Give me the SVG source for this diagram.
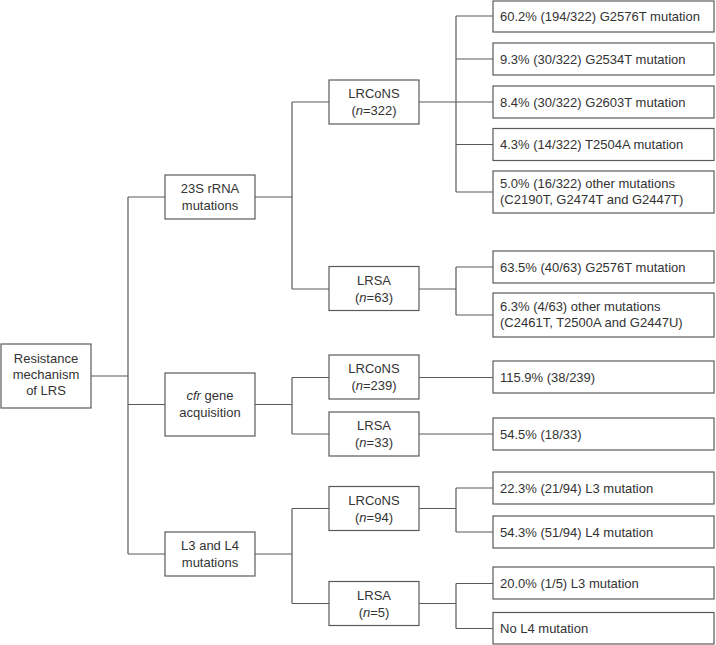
<svg xmlns="http://www.w3.org/2000/svg" width="716" height="645" viewBox="0 0 716 645">
<style>
  .box { fill: #ffffff; stroke: #5a5a5a; stroke-width: 1.2; }
  .ln { fill: none; stroke: #5a5a5a; stroke-width: 1.2; }
  text { font-family: "Liberation Sans", Arial, sans-serif; font-size: 13px; fill: #333333; }
  .c { text-anchor: middle; }
  .i { font-style: italic; }
</style>
<rect width="716" height="645" fill="#ffffff"/>
<g id="connectors">
  <path class="ln" d="M91,376 H128 M128,197 V554 M128,197 H165 M128,404.5 H165 M128,554 H165"/>
  <path class="ln" d="M255,197 H292 M292,102 V289 M292,102 H329 M292,289 H329"/>
  <path class="ln" d="M419,102 H456 M456,16 V192 M456,16 H493 M456,59 H493 M456,102 H493 M456,144.5 H493 M456,192 H493"/>
  <path class="ln" d="M419,289 H456 M456,267 V315 M456,267 H493 M456,315 H493"/>
  <path class="ln" d="M255,404.5 H292 M292,377.5 V434 M292,377.5 H329 M292,434 H329"/>
  <path class="ln" d="M419,377.5 H493 M419,434 H493"/>
  <path class="ln" d="M255,554 H292 M292,508.5 V603.5 M292,508.5 H329 M292,603.5 H329"/>
  <path class="ln" d="M419,508.5 H456 M456,488 V532 M456,488 H493 M456,532 H493"/>
  <path class="ln" d="M419,603.5 H456 M456,583.5 V628.5 M456,583.5 H493 M456,628.5 H493"/>
</g>
<g id="root">
  <rect class="box" x="1" y="344" width="90" height="64"/>
  <text class="c" x="46" y="363">Resistance</text>
  <text class="c" x="46" y="379">mechanism</text>
  <text class="c" x="46" y="395">of LRS</text>
</g>
<g id="n23s">
  <rect class="box" x="165" y="175" width="90" height="44"/>
  <text class="c" x="210" y="193">23S rRNA</text>
  <text class="c" x="210" y="210">mutations</text>
</g>
<g id="ncfr">
  <rect class="box" x="165" y="373" width="90" height="63"/>
  <text class="c" x="210" y="400"><tspan class="i">cfr</tspan> gene</text>
  <text class="c" x="210" y="417">acquisition</text>
</g>
<g id="nL3L4">
  <rect class="box" x="165" y="532" width="90" height="44"/>
  <text class="c" x="210" y="550">L3 and L4</text>
  <text class="c" x="210" y="567">mutations</text>
</g>
<g id="lrcons322">
  <rect class="box" x="329" y="80" width="90" height="44"/>
  <text class="c" x="374" y="98">LRCoNS</text>
  <text class="c" x="374" y="115">(<tspan class="i">n</tspan>=322)</text>
</g>
<g id="lrsa63">
  <rect class="box" x="329" y="266.5" width="90" height="44"/>
  <text class="c" x="374" y="284.5">LRSA</text>
  <text class="c" x="374" y="301.5">(<tspan class="i">n</tspan>=63)</text>
</g>
<g id="lrcons239">
  <rect class="box" x="329" y="355" width="90" height="44"/>
  <text class="c" x="374" y="373">LRCoNS</text>
  <text class="c" x="374" y="390">(<tspan class="i">n</tspan>=239)</text>
</g>
<g id="lrsa33">
  <rect class="box" x="329" y="412" width="90" height="44"/>
  <text class="c" x="374" y="430">LRSA</text>
  <text class="c" x="374" y="447">(<tspan class="i">n</tspan>=33)</text>
</g>
<g id="lrcons94">
  <rect class="box" x="329" y="486.5" width="90" height="44"/>
  <text class="c" x="374" y="504.5">LRCoNS</text>
  <text class="c" x="374" y="521.5">(<tspan class="i">n</tspan>=94)</text>
</g>
<g id="lrsa5">
  <rect class="box" x="329" y="581.5" width="90" height="44"/>
  <text class="c" x="374" y="599.5">LRSA</text>
  <text class="c" x="374" y="616.5">(<tspan class="i">n</tspan>=5)</text>
</g>
<g id="leaf1">
  <rect class="box" x="493" y="1" width="221" height="31"/>
  <text x="500" y="21">60.2% (194/322) G2576T mutation</text>
</g>
<g id="leaf2">
  <rect class="box" x="493" y="43" width="221" height="32"/>
  <text x="500" y="63.5">9.3% (30/322) G2534T mutation</text>
</g>
<g id="leaf3">
  <rect class="box" x="493" y="86" width="221" height="32"/>
  <text x="500" y="106.5">8.4% (30/322) G2603T mutation</text>
</g>
<g id="leaf4">
  <rect class="box" x="493" y="128.5" width="221" height="32"/>
  <text x="500" y="149">4.3% (14/322) T2504A mutation</text>
</g>
<g id="leaf5">
  <rect class="box" x="493" y="171" width="221" height="42"/>
  <text x="500" y="188">5.0% (16/322) other mutations</text>
  <text x="500" y="204">(C2190T, G2474T and G2447T)</text>
</g>
<g id="leaf6">
  <rect class="box" x="493" y="251" width="221" height="32"/>
  <text x="500" y="271.5">63.5% (40/63) G2576T mutation</text>
</g>
<g id="leaf7">
  <rect class="box" x="493" y="293" width="221" height="44"/>
  <text x="500" y="311">6.3% (4/63) other mutations</text>
  <text x="500" y="327">(C2461T, T2500A and G2447U)</text>
</g>
<g id="leaf8">
  <rect class="box" x="493" y="361" width="221" height="32"/>
  <text x="500" y="381.5">115.9% (38/239)</text>
</g>
<g id="leaf9">
  <rect class="box" x="493" y="418" width="221" height="32"/>
  <text x="500" y="438.5">54.5% (18/33)</text>
</g>
<g id="leaf10">
  <rect class="box" x="493" y="472" width="221" height="32"/>
  <text x="500" y="492.5">22.3% (21/94) L3 mutation</text>
</g>
<g id="leaf11">
  <rect class="box" x="493" y="516" width="221" height="32"/>
  <text x="500" y="536.5">54.3% (51/94) L4 mutation</text>
</g>
<g id="leaf12">
  <rect class="box" x="493" y="567" width="221" height="32"/>
  <text x="500" y="587.5">20.0% (1/5) L3 mutation</text>
</g>
<g id="leaf13">
  <rect class="box" x="493" y="612.5" width="221" height="31.5"/>
  <text x="500" y="633">No L4 mutation</text>
</g>
</svg>
